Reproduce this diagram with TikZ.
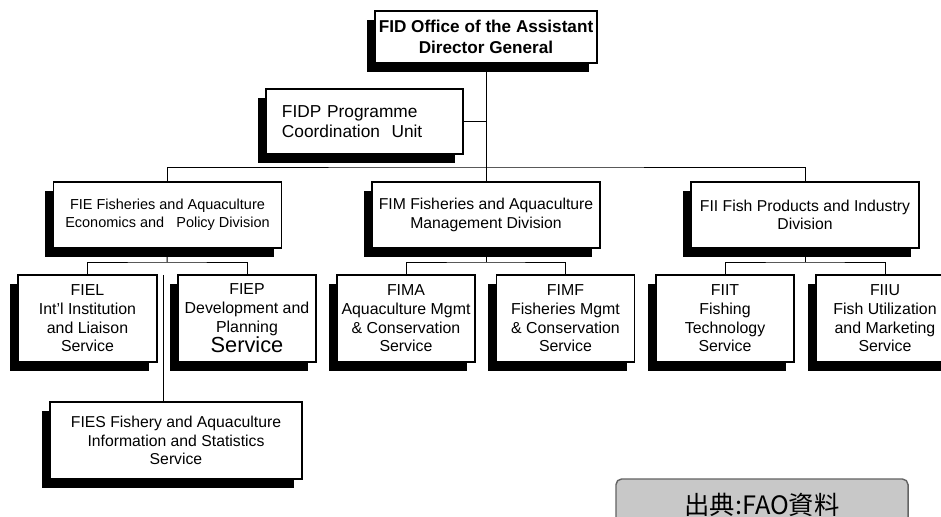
\documentclass[tikz,border=0pt]{standalone}
\usepackage{fontspec}
\setmainfont{Liberation Sans}
\newfontfamily\cjk{Noto Sans CJK JP}
\usetikzlibrary{shadows}

\definecolor{srcgray}{RGB}{200,200,200}
\definecolor{srcline}{RGB}{100,100,100}

\tikzset{
    unit/.style     = {draw = black, line width = 1.2pt, fill = white, inner sep = 0pt, align = center,
                       drop shadow = {shadow xshift = -0.2cm, shadow yshift = -0.225cm, fill = black, opacity = 1}},
    division/.style = {unit, minimum width = 5.7cm, minimum height = 1.65cm, font = \fontsize{11.2}{13}\selectfont},
    service/.style  = {unit, minimum width = 3.45cm, minimum height = 2.175cm, font = \fontsize{11.3}{13.3}\selectfont},
    link/.style     = {draw = black, line width = 0.7pt},
}

\begin{document}
\begin{tikzpicture}[x = 0.025cm, y = -0.025cm]
    \useasboundingbox (0, 0) rectangle (941, 517);
    \clip (0, 0) rectangle (941, 517);

    % Head office and coordination unit
    \node[unit, minimum width = 5.55cm, minimum height = 1.3cm,
          font = \bfseries\fontsize{12.2}{15}\selectfont] (FID) at (486, 37)
        {FID Office of the Assistant\\Director General};
    \node[unit, minimum height = 1.625cm, text width = 4.125cm, inner xsep = 0.4cm, align = left,
          font = \fontsize{12.3}{14.7}\selectfont] (FIDP) at (364.5, 121.5)
        {FIDP Programme\\Coordination\ \ Unit};

    % Divisions
    \node[division, font = \fontsize{10.3}{13}\selectfont] (FIE) at (167.5, 215)
        {FIE Fisheries and Aquaculture\\Economics and\ \ \ Policy Division};
    \node[division] (FIM) at (486, 215) {FIM Fisheries and Aquaculture\\Management Division};
    \node[division] (FII) at (805, 215) {FII Fish Products and Industry\\Division};

    % Services
    \node[service, minimum width = 3.475cm] (FIEL) at (87.5, 318.5)
        {FIEL\\Int'l Institution\\and Liaison\\Service};
    \node[service] (FIEP) at (247, 318.5)
        {FIEP\\Development and\\Planning\\{\fontsize{15.5}{17}\selectfont Service}};
    \node[service] (FIMA) at (406, 318.5)
        {FIMA\\Aquaculture Mgmt\\\& Conservation\\Service};
    \node[service] (FIMF) at (565.5, 318.5)
        {FIMF\\Fisheries Mgmt\\\& Conservation\\Service};
    \node[service] (FIIT) at (725, 318.5)
        {FIIT\\Fishing\\Technology\\Service};
    \node[service] (FIIU) at (885, 318.5)
        {FIIU\\Fish Utilization\\and Marketing\\Service};
    \node[unit, minimum width = 6.3cm, minimum height = 1.925cm,
          font = \fontsize{11.2}{13.3}\selectfont] (FIES) at (176, 440.5)
        {FIES Fishery and Aquaculture\\Information and Statistics\\Service};

    % Source note
    \node[draw = srcline, fill = srcgray, line width = 1pt, rounded corners = 4pt,
          minimum width = 7.3cm, minimum height = 1.3cm,
          font = \cjk\fontsize{18}{20}\selectfont] (src) at (762, 505) {出典:FAO資料};

    % Connectors
    \coordinate (bar)    at (486, 167);
    \coordinate (fiebar) at (167, 262);
    \coordinate (fimbar) at (486, 262);
    \coordinate (fiibar) at (805, 262);
    \coordinate (fiestop) at (163, 275);

    \draw[link] (FID.south) -- (FIM.north);
    \draw[link] (FIDP.east) -- (FIDP.east -| FID.south);
    \draw[link] (FIE.north) |- (bar) -| (FII.north);

    \draw[link] (FIE.south) -- (fiebar);
    \draw[link] (FIEL.north) |- (fiebar) -| (FIEP.north);
    \draw[link] (FIM.south) -- (fimbar);
    \draw[link] (FIMA.north) |- (fimbar) -| (FIMF.north);
    \draw[link] (FII.south) -- (fiibar);
    \draw[link] (FIIT.north) |- (fiibar) -| (FIIU.north);

    \draw[link] (fiestop) -- (fiestop |- FIES.north);
\end{tikzpicture}
\end{document}
